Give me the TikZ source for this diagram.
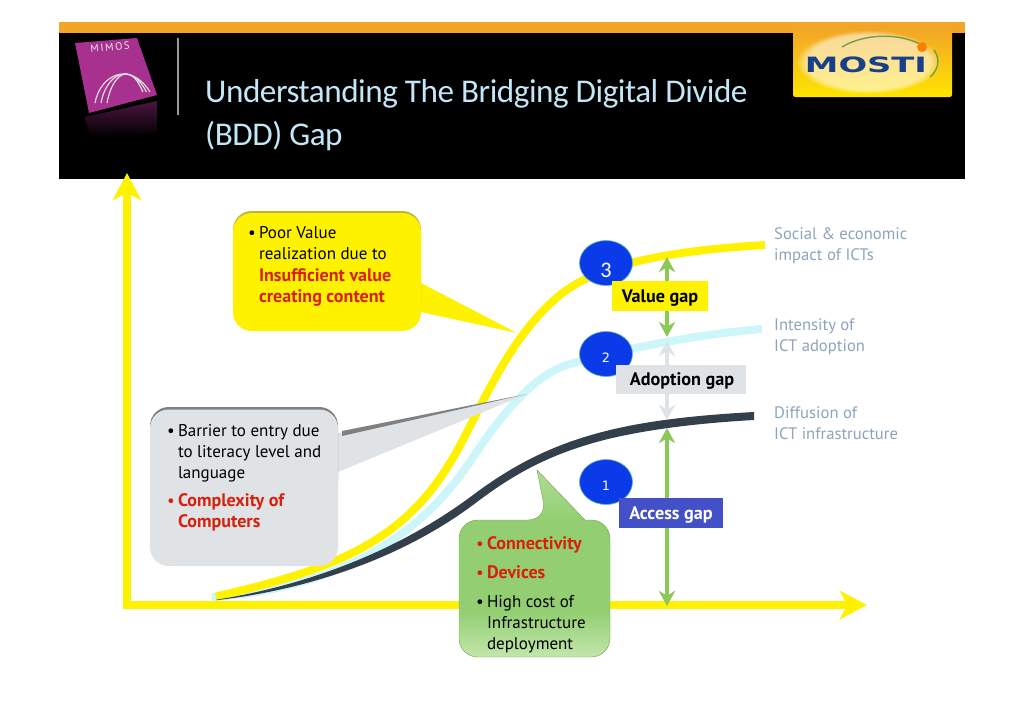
\documentclass[tikz,border=0pt]{standalone}
\usepackage{fontspec}
\setmainfont{PT Sans}
\newfontfamily\titlefont{Carlito}
\newfontfamily\numfont{DejaVu Sans}
\usetikzlibrary{arrows.meta,fadings}

\definecolor{headorange}{HTML}{F2A527}
\definecolor{curveyellow}{HTML}{FFF200}
\definecolor{curvecyan}{HTML}{CDF6FA}
\definecolor{curvedark}{HTML}{333F4B}
\definecolor{gapgreen}{HTML}{8CC858}
\definecolor{gapgrey}{HTML}{DFE3E6}
\definecolor{gapblue}{HTML}{4450C8}
\definecolor{titleblue}{HTML}{C4E6F6}
\definecolor{sidegrey}{HTML}{8EA3BA}
\definecolor{alertred}{HTML}{D8200C}
\definecolor{logopurple}{HTML}{A8308F}
\definecolor{circleblue}{HTML}{0B3BE8}
\definecolor{logoblue}{HTML}{1A3F8A}
\definecolor{greenlow}{HTML}{C3E6AC}
\definecolor{greenmid}{HTML}{93CF72}
\definecolor{greentip}{HTML}{B0DC98}
\pgfdeclareverticalshading{greenfill}{100bp}{color(0bp)=(greenlow); color(25bp)=(greenlow); color(37bp)=(greenmid); color(62bp)=(greenmid); color(75bp)=(greentip); color(100bp)=(greentip)}

\newcommand{\bl}{\makebox[9.2pt][l]{\textbullet}}
\newcommand{\ind}{\hspace*{9.2pt}}
\newcommand{\redbf}[1]{\textcolor{alertred}{\fontsize{15.4}{18}\selectfont\bfseries #1}}

\tikzset{
	bubbletext/.style={anchor=north west, inner sep=0pt, align=left, font=\fontsize{14.5}{18}\selectfont},
	sidetext/.style={anchor=north west, inner sep=0pt, align=left, text=sidegrey, font=\fontsize{14.2}{18.5}\selectfont},
	gaplabel/.style={anchor=center, inner sep=0pt, font=\fontsize{15.5}{15}\selectfont\bfseries},
	gaparrow/.style={line width=4.2pt, {Stealth[length=13pt,width=14pt]}-{Stealth[length=13pt,width=14pt]}},
	axisarrow/.style={line width=7.2pt, curveyellow},
}

\begin{document}
\begin{tikzpicture}[x=.03cm, y=-.03cm]
\useasboundingbox (0,0) rectangle (1024,724);
% draw header
	\fill[headorange] (59,22) rectangle (965,34);
	\fill[black] (59,33) rectangle (965,179);
	\shade[top color=headorange, bottom color=yellow!80!orange, rounded corners=2pt] (793,28) rectangle (952,97);
	\fill[white, opacity=.55, path fading=circle with fuzzy edge 15 percent] (868,62) ellipse (72 and 32);
	\draw[gray!80, line width=1pt] (178,38) -- (178,115);
	\node (titlenode) [anchor=north west, inner sep=0pt, align=left, text=titleblue, font=\titlefont\fontsize{28.3}{36.5}\selectfont\addfontfeature{LetterSpace=-1.4}] at (205,79)
		{Understanding The Bridging Digital Divide\\(BDD) Gap};
% mimos logo
	\shade[top color=logopurple!45!black, bottom color=black] (85,117) -- (157,101) -- (157,133) -- (90,137) -- cycle;
	\fill[logopurple] (75,43) -- (137,38) -- (157,95) -- (89,113) -- cycle;
	\foreach \d in {0,6,12}
		\draw[gray!25, line width=1pt] (95+\d,103) .. controls (100+\d,75) and (130,60) .. (150-\d*.6,92);
	\node (mimosnode) [rotate=6, text=white!85!gray, inner sep=0pt, font=\fontsize{9}{10}\selectfont\addfontfeature{LetterSpace=16}] at (110,47) {MIMOS};
% mosti logo
	\draw[gapgreen!80!black, line width=1.2pt] (842,47) .. controls (865,33) and (900,33) .. (922,45);
	\draw[gapgreen!80!black, line width=1.2pt] (930,77) .. controls (938,70) and (941,60) .. (934,50);
	\fill[orange] (922,47) circle (5);
	\node (mostinode) [inner sep=0pt, xscale=1.6, text=logoblue, font=\numfont\fontsize{18}{20}\selectfont\bfseries] at (866,65) {MOSTI};
% draw axes
	\coordinate (ytip) at (127,173);
	\coordinate (xtip) at (867,605);
	\draw[axisarrow, -{Stealth[length=23pt,width=24pt,inset=6pt]}] (127,609) -- (ytip);
	\draw[axisarrow, -{Stealth[length=23pt,width=24pt,inset=6pt]}] (123,605) -- (xtip);
% draw curves
	\draw[line width=6.8pt, curvecyan] (212,597) .. controls (320,590) and (415,548) .. (473,457)
		.. controls (495,425) and (530,375) .. (570,364) .. controls (620,350) and (690,335) .. (762,329);
	\draw[line width=6.8pt, curveyellow] (216,596.5) .. controls (330,570) and (400,545) .. (450,463)
		.. controls (478,417) and (505,340) .. (560,295) .. controls (600,262) and (680,250) .. (765,245);
	\fill[curvedark] (216,599.8) .. controls (290,588) and (385,560) .. (470.6,496.8)
		.. controls (510,467) and (550,445) .. (606,431) .. controls (650,420) and (700,415) .. (754,412)
		-- (754,420) .. controls (700,423) and (650,429) .. (608,439)
		.. controls (552,453) and (515,473) .. (475.4,503.2) .. controls (392,566) and (290,592) .. (216,600.2) -- cycle;
% gap arrows
	\coordinate (valuetop) at (667,257);
	\coordinate (valuebot) at (667,337);
	\coordinate (adopttop) at (667,341);
	\coordinate (adoptbot) at (667,420);
	\coordinate (accesstop) at (667,428);
	\coordinate (accessbot) at (667,606);
	\draw[gaparrow, gapgreen] (valuetop) -- (valuebot);
	\draw[gaparrow, gapgrey] (adopttop) -- (adoptbot);
	\draw[gaparrow, gapgreen] (accesstop) -- (accessbot);
% numbered circles
	\foreach \n/\cy/\ty/\sz/\f in {1/482/486/11/\numfont, 2/354/358/11/\numfont, 3/263/270/19/\titlefont} {
		\draw[fill=circleblue, draw=teal!60, line width=.6pt] (606,\cy) ellipse (26.5 and 22.5);
		\node (num\n) [text=white, inner sep=0pt, font=\f\fontsize{\sz}{\sz}\selectfont] at (606,\ty) {\n};
	}
% gap labels
	\fill[curveyellow] (612,281) rectangle (708,311);
	\node (valuegap) [gaplabel] at (660,298) {Value gap};
	\fill[gapgrey] (616,365) rectangle (746,394);
	\node (adoptiongap) [gaplabel] at (682,381) {Adoption gap};
	\fill[gapblue] (619,498) rectangle (723,528);
	\node (accessgap) [gaplabel, text=white] at (671,515) {Access gap};
% side labels
	\node (impactlabel) [sidetext] at (774,227) {Social \& economic\\impact of ICTs};
	\node (adoptlabel) [sidetext] at (774,318) {Intensity of\\ICT adoption};
	\node (difflabel) [sidetext] at (774,406) {Diffusion of\\ICT infrastructure};
% yellow callout
	\fill[curveyellow] (421,283) -- (517,333) -- (421,312) -- cycle;
	\fill[yellow!70!black, rounded corners=16pt] (233,211) rectangle (421,325);
	\fill[curveyellow, rounded corners=16pt] (233,213) rectangle (421,331);
	\node (valuetext) [bubbletext] at (248,226) {\bl Poor Value\\\ind realization due to\\[1pt]\ind\redbf{Insufficient value}\\\ind\redbf{creating content}};
% grey callout
	\fill[gapgrey] (338,433) -- (527,394) -- (338,472) -- cycle;
	\fill[gray] (342,431) -- (527,394) -- (342,436) -- cycle;
	\fill[gray, rounded corners=16pt] (150,407) rectangle (338,500);
	\fill[gapgrey, rounded corners=16pt] (150,409.5) rectangle (338,566);
	\node (barriertext) [bubbletext] at (167,424) {\bl Barrier to entry due\\\ind to literacy level and\\\ind language\\[6pt]\textcolor{alertred}{\bl}\redbf{Complexity of}\\\ind\redbf{Computers}};
% green callout
	\shade[shading=greenfill, rounded corners=16pt, draw=gapgreen!85!black, line width=.4pt]
		(459,657) -- (459,520) -- (547,520) [sharp corners] -- (537,470) -- (585,520) [rounded corners=16pt] -- (610,520) -- (610,657) -- cycle;
	\node (greentext) [bubbletext] at (476,536) {\textcolor{alertred}{\bl}\redbf{Connectivity}\\[7pt]\textcolor{alertred}{\bl}\redbf{Devices}\\[7pt]\bl High cost of\\\ind Infrastructure\\\ind deployment};
\end{tikzpicture}
\end{document}
